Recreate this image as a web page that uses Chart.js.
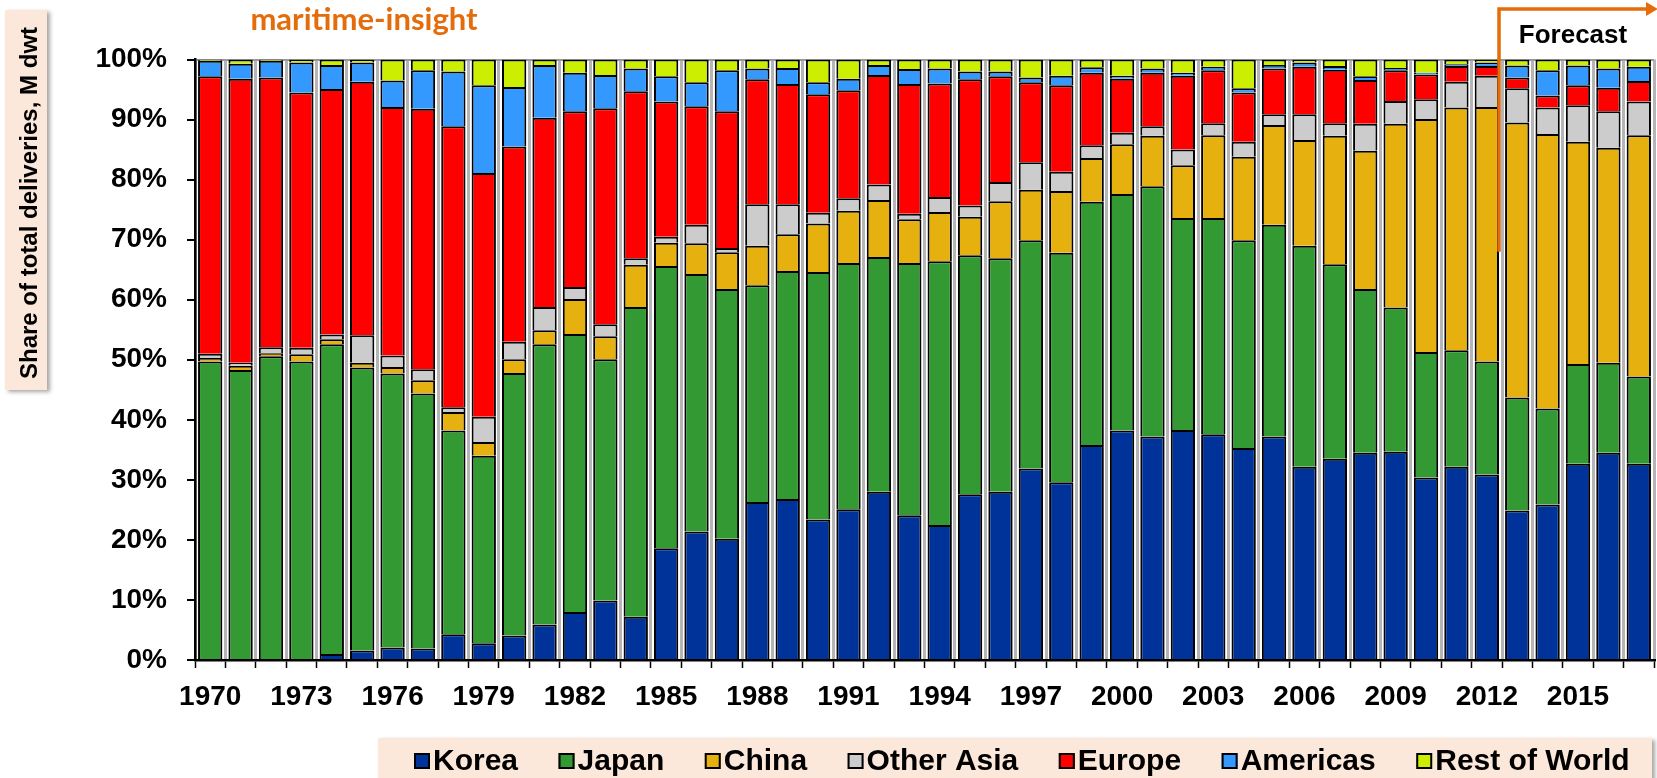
<!DOCTYPE html>
<html>
<head>
<meta charset="utf-8">
<title>Share of deliveries by builder region</title>
<script src="https://cdn.jsdelivr.net/npm/chart.js@4.4.1/dist/chart.umd.min.js"></script>
<style>
    html, body { margin: 0; padding: 0; background: #fff; }
    #wrap { position: relative; width: 1657px; height: 778px; }
</style>
</head>
<body>
<div id="wrap"><canvas id="deliveriesChart"></canvas></div>
<script>
// share of total deliveries (% of M dwt)
const years = [
    1970, 1971, 1972, 1973, 1974, 1975, 1976, 1977, 1978, 1979,
    1980, 1981, 1982, 1983, 1984, 1985, 1986, 1987, 1988, 1989,
    1990, 1991, 1992, 1993, 1994, 1995, 1996, 1997, 1998, 1999,
    2000, 2001, 2002, 2003, 2004, 2005, 2006, 2007, 2008, 2009,
    2010, 2011, 2012, 2013, 2014, 2015, 2016, 2017,
];
const korea = [
    0, 0, 0, 0, 1.0, 1.6, 2.1, 1.9, 4.3, 2.8,
    4.1, 5.9, 8.0, 9.9, 7.2, 18.6, 21.4, 20.2, 26.3, 26.8,
    23.4, 25.1, 28.0, 24.1, 22.5, 27.6, 28.0, 31.9, 29.6, 35.8,
    38.2, 37.2, 38.3, 37.6, 35.3, 37.2, 32.2, 33.5, 34.5, 34.7,
    30.4, 32.2, 30.9, 24.9, 25.9, 32.7, 34.5, 32.7,
];
const japan = [
    49.7, 48.3, 50.6, 49.7, 51.6, 47.1, 45.6, 42.5, 33.9, 31.2,
    43.7, 46.7, 46.3, 40.2, 51.6, 47.0, 42.9, 41.6, 36.1, 38.0,
    41.2, 41.0, 39.1, 42.0, 43.9, 39.8, 38.9, 38.0, 38.2, 40.5,
    39.4, 41.7, 35.3, 36.0, 34.6, 35.3, 36.8, 32.4, 27.3, 24.0,
    20.9, 19.4, 18.8, 18.8, 16.0, 16.6, 15.0, 14.5,
];
const china = [
    0.6, 0.7, 0.5, 1.2, 0.8, 0.8, 1.1, 2.2, 3.1, 2.3,
    2.3, 2.3, 5.8, 3.8, 7.0, 3.9, 5.1, 6.1, 6.6, 6.1,
    8.1, 8.7, 9.5, 7.3, 8.2, 6.4, 9.5, 8.4, 10.3, 7.3,
    8.3, 8.4, 8.8, 13.8, 13.9, 16.6, 17.6, 21.4, 23.0, 30.6,
    38.8, 40.4, 42.4, 45.8, 45.7, 37.0, 35.8, 40.2,
];
const otherAsia = [
    0.7, 0.5, 1.0, 1.1, 0.8, 4.6, 1.9, 1.8, 0.8, 4.2,
    2.9, 3.9, 2.0, 2.0, 1.1, 1.0, 3.1, 0.7, 6.9, 5.0,
    1.8, 2.1, 2.6, 0.9, 2.5, 1.9, 3.2, 4.6, 3.2, 2.1,
    1.9, 1.6, 2.6, 2.0, 2.5, 1.8, 4.3, 2.1, 4.5, 3.8,
    3.3, 4.3, 5.2, 5.7, 4.4, 6.1, 6.1, 5.6,
];
const europe = [
    46.2, 47.3, 44.9, 42.5, 40.9, 42.2, 41.4, 43.4, 46.8, 40.6,
    32.5, 31.5, 29.3, 36.0, 27.8, 22.5, 19.7, 22.8, 20.8, 20.0,
    19.7, 18.0, 18.2, 21.6, 18.9, 21.0, 17.6, 13.3, 14.4, 12.1,
    9.0, 8.9, 12.3, 8.8, 8.2, 7.6, 7.9, 8.9, 7.3, 5.1,
    4.1, 2.6, 1.6, 1.8, 2.0, 3.3, 3.9, 3.4,
];
const americas = [
    2.6, 2.5, 2.8, 5.0, 4.0, 3.2, 4.4, 6.4, 9.1, 14.6,
    9.9, 8.8, 6.4, 5.5, 3.8, 4.2, 4.0, 6.8, 1.8, 2.7,
    2.0, 1.9, 1.7, 2.5, 2.5, 1.3, 0.8, 0.8, 1.6, 0.9,
    0.5, 0.7, 0.5, 0.6, 0.7, 0.6, 0.7, 0.6, 0.6, 0.4,
    0.3, 0.3, 0.6, 2.0, 4.2, 3.3, 3.2, 2.4,
];
const restOfWorld = [
    0.2, 0.7, 0.2, 0.5, 0.9, 0.5, 3.5, 1.8, 2.0, 4.3,
    4.6, 0.9, 2.2, 2.6, 1.5, 2.8, 3.8, 1.8, 1.5, 1.4,
    3.8, 3.2, 0.9, 1.6, 1.5, 2.0, 2.0, 3.0, 2.7, 1.3,
    2.7, 1.5, 2.2, 1.2, 4.8, 0.9, 0.5, 1.1, 2.8, 1.4,
    2.2, 0.8, 0.5, 1.0, 1.8, 1.0, 1.5, 1.2,
];
const firstForecastYear = 2013;

const seriesNames = ["Korea", "Japan", "China", "Other Asia", "Europe", "Americas", "Rest of World"];
const seriesData = [korea, japan, china, otherAsia, europe, americas, restOfWorld];
const seriesColors = ["#003399", "#339933", "#E6B00F", "#CCCCCC", "#FF0000", "#3399FF", "#CCEE00"];

const tickFont = { family: "'Liberation Sans', Arial, sans-serif", size: 28, weight: "bold" };
const orange = "#E46C0A";
const peach = "#FCE8DA";

// peach boxes, title, legend and forecast marker
const decorations = {
    id: "decorations",
    beforeDraw(chart) {
        const ctx = chart.ctx;
        ctx.save();
        ctx.shadowColor = "rgba(0, 0, 0, 0.35)";
        ctx.shadowBlur = 4;
        ctx.shadowOffsetX = 3;
        ctx.shadowOffsetY = 2;
        ctx.fillStyle = peach;
        ctx.fillRect(5, 10, 42, 380);
        ctx.fillRect(378, 738, 1274, 45);
        ctx.restore();

        // y axis title
        ctx.save();
        ctx.translate(29, 203);
        ctx.rotate(-Math.PI / 2);
        ctx.fillStyle = "#000";
        ctx.font = "bold 24px 'Liberation Sans', Arial, sans-serif";
        ctx.textAlign = "center";
        ctx.textBaseline = "middle";
        ctx.fillText("Share of total deliveries, M dwt", 0, 1);
        ctx.restore();

        // legend
        ctx.save();
        ctx.font = "bold 30px 'Liberation Sans', Arial, sans-serif";
        ctx.textBaseline = "middle";
        let x = 414;
        const y = 761;
        chart.data.datasets.forEach(function (ds) {
            ctx.fillStyle = ds.backgroundColor;
            ctx.fillRect(x, y - 8, 16, 16);
            ctx.strokeStyle = "#000";
            ctx.lineWidth = 2;
            ctx.strokeRect(x + 1, y - 7, 14, 14);
            ctx.fillStyle = "#000";
            ctx.fillText(ds.label, x + 19, y + 1);
            x += 19 + ctx.measureText(ds.label).width + 40.5;
        });
        ctx.restore();
    },
    afterDraw(chart) {
        const ctx = chart.ctx;
        const xs = chart.scales.x;
        const ys = chart.scales.y;

        ctx.save();
        ctx.fillStyle = orange;
        ctx.font = "bold 31px Lato, 'Open Sans', sans-serif";
        ctx.textAlign = "center";
        ctx.textBaseline = "alphabetic";
        ctx.fillText("maritime-insight", 364, 30);

        // forecast marker between the last actual and the first forecast year
        const idx = years.indexOf(firstForecastYear);
        const fx = (xs.getPixelForValue(idx - 1) + xs.getPixelForValue(idx)) / 2 - 3;
        ctx.strokeStyle = orange;
        ctx.lineWidth = 3.5;
        ctx.beginPath();
        ctx.moveTo(fx, ys.getPixelForValue(68));
        ctx.lineTo(fx, 9);
        ctx.lineTo(1648, 9);
        ctx.stroke();
        ctx.beginPath();
        ctx.moveTo(1646, 2);
        ctx.lineTo(1658, 9);
        ctx.lineTo(1646, 16);
        ctx.closePath();
        ctx.fill();

        ctx.fillStyle = "#000";
        ctx.font = "bold 26px 'Liberation Sans', Arial, sans-serif";
        ctx.fillText("Forecast", 1573, 43);
        ctx.restore();
    },
};

const ctx = document.getElementById("deliveriesChart").getContext("2d");
new Chart(ctx, {
    type: "bar",
    data: {
        labels: years.map(String),
        datasets: seriesNames.map(function (name, i) {
            return {
                label: name,
                data: seriesData[i],
                backgroundColor: seriesColors[i],
                borderColor: "#000",
                borderWidth: 2,
                barPercentage: 0.8,
                categoryPercentage: 1.0,
            };
        }),
    },
    options: {
        responsive: true,
        maintainAspectRatio: false,
        animation: false,
        layout: { padding: { left: 0, right: 3, top: 59.5, bottom: 58 } },
        plugins: {
            legend: { display: false },
            tooltip: { enabled: false },
        },
        scales: {
            x: {
                stacked: true,
                grid: {
                    offset: true,
                    color: "#b5b5b5",
                    lineWidth: 3,
                    tickColor: "#000",
                    tickLength: 8,
                    tickWidth: 1.5,
                },
                border: { color: "#000", width: 2.5 },
                ticks: {
                    autoSkip: false,
                    maxRotation: 0,
                    color: "#000",
                    font: tickFont,
                    padding: 12,
                    callback: function (val, i) {
                        return i % 3 === 0 ? this.getLabelForValue(val) : "";
                    },
                },
                afterFit: function (scale) {
                    scale.height = 60;
                },
            },
            y: {
                stacked: true,
                min: 0,
                max: 100,
                grid: {
                    color: function (c) {
                        return c.tick && c.tick.value === 100 ? "#9a9a9a" : "rgba(0,0,0,0)";
                    },
                    lineWidth: 2,
                    tickColor: "#000",
                    tickLength: 8,
                    tickWidth: 2,
                },
                border: { color: "#000", width: 2.5 },
                ticks: {
                    stepSize: 10,
                    color: "#000",
                    font: tickFont,
                    padding: 20,
                    callback: function (v) {
                        return v + "%";
                    },
                },
                afterFit: function (scale) {
                    scale.width = 195;
                },
            },
        },
    },
    plugins: [decorations],
});
</script>
</body>
</html>
